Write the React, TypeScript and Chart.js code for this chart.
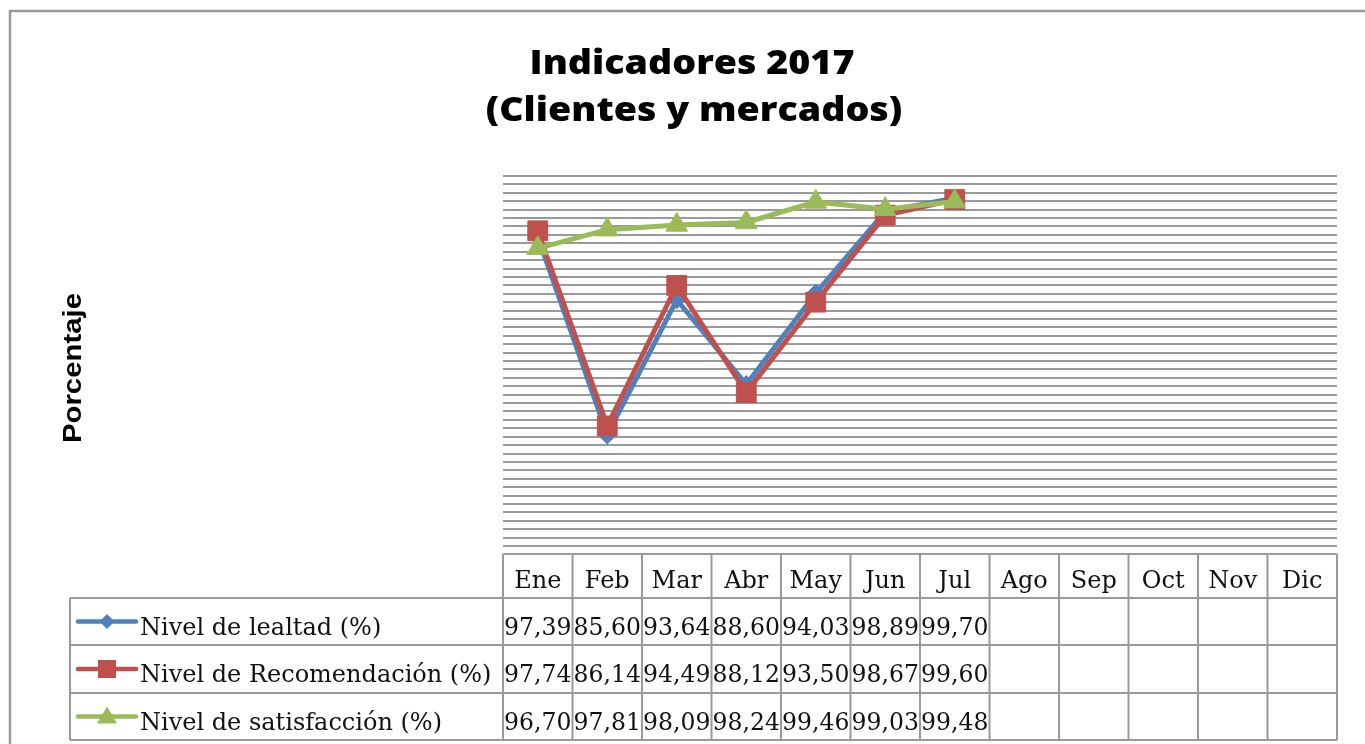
import React, { useEffect, useRef } from 'react';
import { Chart, registerables } from 'chart.js';

Chart.register(...registerables);

const categories = ['Ene', 'Feb', 'Mar', 'Abr', 'May', 'Jun', 'Jul', 'Ago', 'Sep', 'Oct', 'Nov', 'Dic'];
const lealtad = [97.39, 85.6, 93.64, 88.6, 94.03, 98.89, 99.7, null, null, null, null, null];
const recomendacion = [97.74, 86.14, 94.49, 88.12, 93.5, 98.67, 99.6, null, null, null, null, null];
const satisfaccion = [96.7, 97.81, 98.09, 98.24, 99.46, 99.03, 99.48, null, null, null, null, null];
const seriesNames = ['Nivel de lealtad (%)', 'Nivel de Recomendación (%)', 'Nivel de satisfacción (%)'];
const seriesColors = ['#4F81BD', '#C0504D', '#9BBB59'];
const seriesMarkers = ['rectRot', 'rect', 'triangle'];
const titleLines = ['Indicadores 2017', '(Clientes y mercados)'];
const yTitle = 'Porcentaje';
const yMin = 79;
const yMax = 101;
const yStep = 0.5;

const GRID = '#9a9a9a';
const SERIF = '"DejaVu Serif", serif';

function fmt(v: number | null) {
  if (v === null || v === undefined) return '';
  return v.toFixed(2).replace('.', ',');
}

function drawMarker(ctx: CanvasRenderingContext2D, kind: string, x: number, y: number, color: string) {
  ctx.save();
  ctx.fillStyle = color;
  ctx.beginPath();
  if (kind === 'rectRot') {
    const r = 7.5;
    ctx.moveTo(x - r, y);
    ctx.lineTo(x, y - r);
    ctx.lineTo(x + r, y);
    ctx.lineTo(x, y + r);
  } else if (kind === 'rect') {
    ctx.rect(x - 9, y - 9, 18, 18);
  } else {
    ctx.moveTo(x, y - 10);
    ctx.lineTo(x + 10, y + 7);
    ctx.lineTo(x - 10, y + 7);
  }
  ctx.closePath();
  ctx.fill();
  ctx.restore();
}

const tablePlugin = {
  id: 'excelTable',
  afterDraw(chart: any) {
    const ctx: CanvasRenderingContext2D = chart.ctx;
    const xs = chart.scales.x;
    const area = chart.chartArea;
    const n = categories.length;
    const centers = categories.map((_, i) => xs.getPixelForValue(i));
    const bounds: number[] = [area.left];
    for (let i = 0; i < n - 1; i++) bounds.push((centers[i] + centers[i + 1]) / 2);
    bounds.push(area.right);

    const headTop = 554;
    const rowYs = [598, 645, 693, 740];
    const legendLeft = 70;

    ctx.save();
    // outer chart border
    ctx.strokeStyle = GRID;
    ctx.lineWidth = 2.5;
    ctx.beginPath();
    ctx.moveTo(10, 760);
    ctx.lineTo(10, 11);
    ctx.lineTo(1400, 11);
    ctx.stroke();

    // title
    ctx.fillStyle = '#000';
    ctx.textAlign = 'center';
    ctx.textBaseline = 'alphabetic';
    ctx.font = '800 33px "Open Sans", sans-serif';
    ctx.save();
    ctx.translate(692, 74);
    ctx.scale(1.14, 1);
    ctx.fillText(titleLines[0], 0, 0);
    ctx.restore();
    ctx.save();
    ctx.translate(694, 121);
    ctx.scale(1.14, 1);
    ctx.fillText(titleLines[1], 0, 0);
    ctx.restore();

    // y title
    ctx.save();
    ctx.translate(81, 368);
    ctx.rotate(-Math.PI / 2);
    ctx.scale(1.13, 1);
    ctx.font = 'bold 26px "Liberation Sans", Arial, sans-serif';
    ctx.fillText(yTitle, 0, 0);
    ctx.restore();

    // table lines
    ctx.strokeStyle = GRID;
    ctx.lineWidth = 2;
    ctx.beginPath();
    ctx.moveTo(area.left, headTop);
    ctx.lineTo(area.right, headTop);
    rowYs.forEach((y) => {
      ctx.moveTo(legendLeft, y);
      ctx.lineTo(area.right, y);
    });
    bounds.forEach((bx) => {
      ctx.moveTo(bx, headTop);
      ctx.lineTo(bx, rowYs[rowYs.length - 1]);
    });
    ctx.moveTo(legendLeft, rowYs[0]);
    ctx.lineTo(legendLeft, rowYs[rowYs.length - 1]);
    ctx.stroke();

    // header labels
    ctx.fillStyle = '#111';
    ctx.font = `24px ${SERIF}`;
    ctx.textAlign = 'center';
    categories.forEach((c, i) => {
      ctx.fillText(c, centers[i], 588);
    });

    // rows
    const allSeries = [lealtad, recomendacion, satisfaccion];
    const baselines = [635, 682, 730];
    allSeries.forEach((vals, si) => {
      const top = rowYs[si];
      const bottom = rowYs[si + 1];
      const mid = (top + bottom) / 2;
      // legend key
      ctx.save();
      ctx.strokeStyle = seriesColors[si];
      ctx.lineWidth = 4.5;
      ctx.lineCap = 'round';
      ctx.beginPath();
      ctx.moveTo(78, mid);
      ctx.lineTo(136, mid);
      ctx.stroke();
      ctx.restore();
      drawMarker(ctx, seriesMarkers[si], 107, mid, seriesColors[si]);
      ctx.fillStyle = '#111';
      ctx.font = `24px ${SERIF}`;
      ctx.textAlign = 'left';
      ctx.fillText(seriesNames[si], 140, baselines[si]);
      ctx.font = `23.5px ${SERIF}`;
      ctx.textAlign = 'center';
      vals.forEach((v, i) => {
        const t = fmt(v as any);
        if (t) ctx.fillText(t, centers[i], baselines[si]);
      });
    });
    ctx.restore();
  },
};

export default function App() {
  const ref = useRef<HTMLCanvasElement | null>(null);
  useEffect(() => {
    if (!ref.current) return;
    const chart = new Chart(ref.current, {
      type: 'line',
      data: {
        labels: categories,
        datasets: [
          {
            label: seriesNames[0],
            data: lealtad,
            borderColor: seriesColors[0],
            backgroundColor: seriesColors[0],
            borderWidth: 5,
            pointStyle: 'rectRot',
            pointRadius: 9,
            pointBorderWidth: 1,
            order: 3,
          },
          {
            label: seriesNames[1],
            data: recomendacion,
            borderColor: seriesColors[1],
            backgroundColor: seriesColors[1],
            borderWidth: 5,
            pointStyle: 'rect',
            pointRadius: 14,
            pointBorderWidth: 1,
            order: 2,
          },
          {
            label: seriesNames[2],
            data: satisfaccion,
            borderColor: seriesColors[2],
            backgroundColor: seriesColors[2],
            borderWidth: 5,
            pointStyle: 'triangle',
            pointRadius: 12.5,
            pointBorderWidth: 1,
            order: 1,
          },
        ],
      },
      options: {
        responsive: true,
        maintainAspectRatio: false,
        animation: false,
        layout: { padding: { left: 503, right: 28, top: 176, bottom: 198 } },
        plugins: {
          legend: { display: false },
          title: { display: false },
          tooltip: { enabled: false },
        },
        scales: {
          x: {
            offset: true,
            ticks: { display: false },
            grid: { display: false, drawTicks: false },
            border: { display: false },
          },
          y: {
            min: yMin,
            max: yMax,
            ticks: { display: false, stepSize: yStep },
            grid: { color: GRID, lineWidth: 2, drawTicks: false },
            border: { display: false },
          },
        },
      },
      plugins: [tablePlugin],
    });
    return () => chart.destroy();
  }, []);
  return (
    <div style={{ position: 'fixed', left: 0, top: 0, width: 1365, height: 744, background: '#fff' }}>
      <canvas ref={ref} />
    </div>
  );
}
